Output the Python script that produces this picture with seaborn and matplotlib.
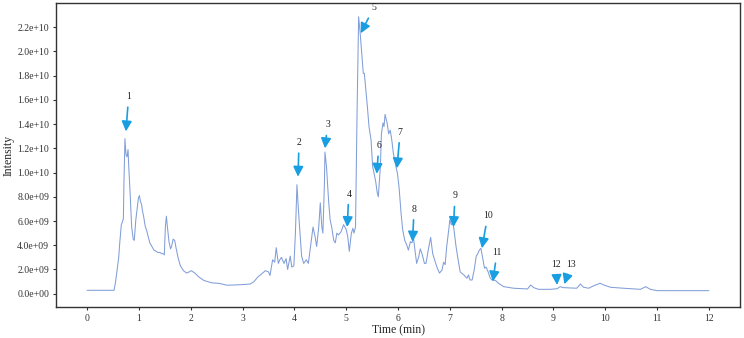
import numpy as np
import pandas as pd
import matplotlib
matplotlib.use("Agg")
import matplotlib.pyplot as plt
import seaborn as sns

# Chromatogram trace (time in min, intensity in units of 1e10)
time_min = [0.00, 0.52, 0.55, 0.58, 0.61, 0.63, 0.66, 0.68, 0.70, 0.71, 0.73, 0.75, 0.77, 0.79, 0.80,
            0.83, 0.86, 0.89, 0.91, 0.94, 0.97, 0.99, 1.01, 1.03, 1.05, 1.07, 1.09, 1.12, 1.15, 1.18,
            1.21, 1.25, 1.29, 1.33, 1.37, 1.41, 1.44, 1.47, 1.49, 1.51, 1.53, 1.55, 1.58, 1.61, 1.63,
            1.66, 1.69, 1.72, 1.76, 1.80, 1.86, 1.92, 1.97, 2.01, 2.08, 2.15, 2.25, 2.40, 2.55, 2.70,
            2.85, 3.00, 3.15, 3.22, 3.30, 3.36, 3.44, 3.50, 3.53, 3.58, 3.62, 3.65, 3.69, 3.72, 3.75,
            3.78, 3.80, 3.84, 3.87, 3.92, 3.95, 3.99, 4.02, 4.05, 4.07, 4.10, 4.14, 4.18, 4.23, 4.27,
            4.32, 4.36, 4.40, 4.43, 4.47, 4.50, 4.53, 4.55, 4.58, 4.59, 4.62, 4.66, 4.69, 4.72, 4.76,
            4.79, 4.82, 4.85, 4.90, 4.95, 5.00, 5.03, 5.06, 5.10, 5.13, 5.15, 5.18, 5.21, 5.24, 5.27,
            5.30, 5.33, 5.35, 5.39, 5.41, 5.44, 5.48, 5.51, 5.54, 5.57, 5.60, 5.62, 5.66, 5.68, 5.71,
            5.73, 5.75, 5.79, 5.82, 5.85, 5.88, 5.91, 5.96, 5.99, 6.02, 6.06, 6.09, 6.13, 6.17, 6.20,
            6.24, 6.27, 6.30, 6.33, 6.36, 6.40, 6.43, 6.47, 6.51, 6.54, 6.59, 6.63, 6.67, 6.72, 6.76,
            6.80, 6.85, 6.88, 6.91, 6.94, 6.98, 7.00, 7.03, 7.06, 7.08, 7.12, 7.16, 7.20, 7.27, 7.33,
            7.36, 7.39, 7.43, 7.47, 7.51, 7.54, 7.57, 7.60, 7.64, 7.67, 7.70, 7.74, 7.78, 7.82, 7.88,
            7.94, 8.04, 8.23, 8.50, 8.56, 8.62, 8.71, 8.94, 9.07, 9.13, 9.19, 9.45, 9.52, 9.58, 9.68,
            9.77, 9.90, 9.97, 10.10, 10.35, 10.68, 10.78, 10.87, 11.00, 12.00]
intensity_e10 = [0.028, 0.028, 0.10, 0.20, 0.30, 0.42, 0.57, 0.59, 0.62, 0.90, 1.28, 1.15, 1.13, 1.19, 1.08,
                 0.83, 0.55, 0.45, 0.44, 0.61, 0.72, 0.79, 0.81, 0.76, 0.74, 0.68, 0.64, 0.56, 0.52, 0.47,
                 0.42, 0.39, 0.36, 0.35, 0.34, 0.34, 0.33, 0.33, 0.32, 0.55, 0.64, 0.55, 0.43, 0.37, 0.39,
                 0.45, 0.44, 0.37, 0.29, 0.23, 0.19, 0.17, 0.18, 0.19, 0.17, 0.14, 0.11, 0.09, 0.085, 0.07,
                 0.072, 0.075, 0.08, 0.10, 0.14, 0.16, 0.19, 0.18, 0.15, 0.28, 0.26, 0.38, 0.25, 0.28, 0.30,
                 0.27, 0.25, 0.29, 0.20, 0.31, 0.22, 0.23, 0.50, 0.90, 0.75, 0.55, 0.31, 0.25, 0.28, 0.25,
                 0.42, 0.55, 0.47, 0.39, 0.55, 0.75, 0.55, 0.50, 0.91, 1.17, 1.05, 0.77, 0.61, 0.55, 0.44,
                 0.42, 0.50, 0.485, 0.51, 0.57, 0.53, 0.47, 0.35, 0.50, 0.54, 0.50, 0.55, 1.50, 2.287, 2.15,
                 1.99, 1.82, 1.82, 1.63, 1.54, 1.38, 1.27, 1.05, 0.99, 0.925, 0.83, 0.80, 1.05, 1.32, 1.41,
                 1.38, 1.48, 1.41, 1.32, 1.35, 1.27, 1.16, 1.05, 0.99, 0.88, 0.66, 0.53, 0.44, 0.40, 0.36,
                 0.43, 0.42, 0.46, 0.35, 0.25, 0.305, 0.37, 0.32, 0.25, 0.25, 0.375, 0.465, 0.33, 0.26, 0.21,
                 0.17, 0.196, 0.26, 0.24, 0.39, 0.53, 0.61, 0.57, 0.59, 0.53, 0.39, 0.28, 0.18, 0.155, 0.127,
                 0.155, 0.113, 0.113, 0.196, 0.31, 0.33, 0.36, 0.375, 0.28, 0.21, 0.22, 0.18, 0.127, 0.113, 0.11,
                 0.086, 0.058, 0.045, 0.039, 0.072, 0.05, 0.036, 0.036, 0.041, 0.058, 0.05, 0.045, 0.08, 0.053, 0.045,
                 0.064, 0.086, 0.072, 0.053, 0.045, 0.036, 0.058, 0.036, 0.025, 0.025]

# Peak annotations
peak_labels = ['1', '2', '3', '4', '5', '6', '7', '8', '9', '10', '11', '12', '13']
peak_t = [0.75, 4.07, 4.59, 5.02, 5.28, 5.59, 5.98, 6.28, 7.07, 7.62, 7.83, 9.07, 9.21]
peak_i = [1.34, 0.966, 1.20, 0.55, 2.15, 0.99, 1.035, 0.43, 0.55, 0.375, 0.10, 0.072, 0.078]
label_t = [0.80, 4.09, 4.64, 5.05, 5.53, 5.63, 6.04, 6.31, 7.10, 7.73, 7.91, 9.05, 9.34]
label_i = [1.627, 1.247, 1.393, 0.823, 2.36, 1.222, 1.333, 0.697, 0.807, 0.642, 0.339, 0.237, 0.245]

x_ticks = list(range(0, 13))
y_ticks = [0.0, 0.2, 0.4, 0.6, 0.8, 1.0, 1.2, 1.4, 1.6, 1.8, 2.0, 2.2]

SCALE = 1e10
df = pd.DataFrame({"Time (min)": time_min,
                   "Intensity": np.array(intensity_e10) * SCALE})

sns.set_style("ticks")
plt.rcParams['font.family'] = ['Liberation Serif', 'DejaVu Serif']
plt.rcParams['axes.edgecolor'] = '#333333'
plt.rcParams['xtick.color'] = '#333333'
plt.rcParams['ytick.color'] = '#333333'

fig = plt.figure(figsize=(7.44, 3.38), dpi=100)
ax = fig.add_axes([0.0753, 0.0917, 0.9193, 0.8993])

sns.lineplot(data=df, x="Time (min)", y="Intensity", ax=ax,
             color="#819ED8", linewidth=0.75, estimator=None, sort=False)

for lab, xt, yt, xl, yl in zip(peak_labels, peak_t, peak_i, label_t, label_i):
    ax.annotate(lab, xy=(xt, yt * SCALE), xytext=(xl, yl * SCALE),
                ha='center', va='center', fontsize=7, color='#222222',
                arrowprops=dict(arrowstyle='-|>', color='#1A9EE2', lw=1.2,
                                mutation_scale=15, shrinkA=2, shrinkB=0))

ax.set_xlim(-0.6, 12.6)
ax.set_ylim(-0.11 * SCALE, 2.40 * SCALE)
ax.set_xticks(x_ticks)
ax.set_xticklabels([str(v) for v in x_ticks])
ax.set_yticks([v * SCALE for v in y_ticks])
ax.set_yticklabels([f"{v * SCALE:.1e}" for v in y_ticks])
ax.tick_params(axis='both', labelsize=7, length=2.5, width=0.8, direction='out', pad=2.5)
ax.set_xlabel("Time (min)", fontsize=8.5, labelpad=1)
ax.set_ylabel("Intensity", fontsize=8.5, labelpad=2)
for sp in ax.spines.values():
    sp.set_visible(True)
    sp.set_linewidth(1.0)

fig.savefig("out.png", dpi=100)
